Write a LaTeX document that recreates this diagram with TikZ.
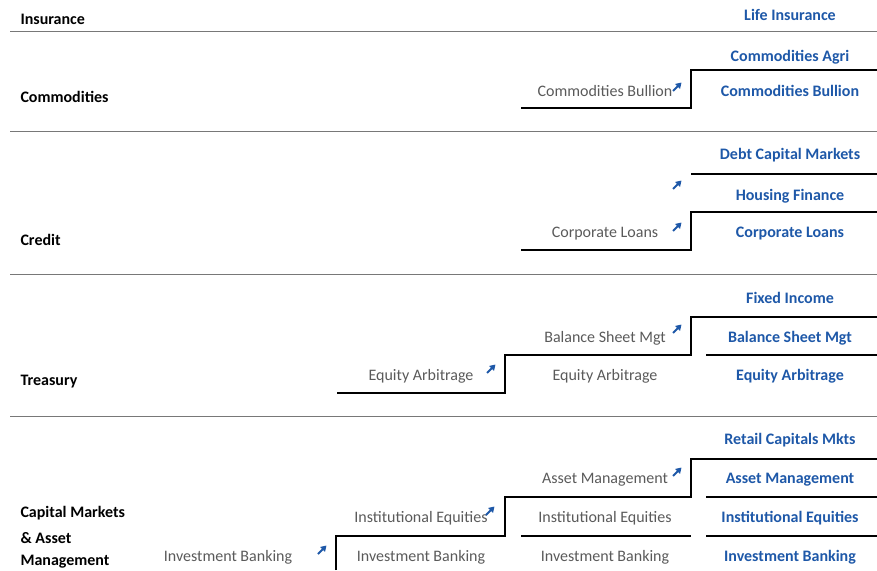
\documentclass[tikz,border=0pt]{standalone}
\usepackage{fontspec}
\setmainfont{Carlito}
\usetikzlibrary{arrows.meta}

\definecolor{unitblue}{RGB}{30,88,168}
\definecolor{oldgrey}{RGB}{90,90,90}
\definecolor{rulegrey}{RGB}{120,120,120}

\begin{document}
\begin{tikzpicture}[x=1pt,y=-1pt,
    every node/.style={font=\fontsize{16}{18}\selectfont},
    sector/.style={anchor=west,font=\fontsize{16}{18}\selectfont\bfseries},
    newunit/.style={text=unitblue,font=\fontsize{16}{18}\selectfont\bfseries},
    oldunit/.style={text=oldgrey},
    stair/.style={line width=2.4pt,line join=miter},
    sep/.style={rulegrey,line width=0.9pt},
    upmark/.style={unitblue,line width=1.8pt,-{Triangle[length=5.5pt,width=6.5pt]}}]

  \useasboundingbox (0,0) rectangle (877,570);

  % sector rules
  \foreach \y in {31,131,274,416}
    \draw[sep] (10,\y) -- (877,\y);

  % sector names
  \node[sector] (ins)  at (17,19)  {Insurance};
  \node[sector] (com)  at (17,97)  {Commodities};
  \node[sector] (cre)  at (17,240) {Credit};
  \node[sector] (tre)  at (17,382) {Treasury};
  \node[sector] (cap1) at (17,513) {Capital Markets};
  \node[sector] (cap2) at (17,538) {\& Asset};
  \node[sector] (cap3) at (17,562) {Management};

  % stairs
  \draw[stair] (521,108) -- (691,108) -- (691,70) -- (877,70);
  \draw[stair] (521,250) -- (691,250) -- (691,212) -- (877,212);
  \draw[stair] (691,174) -- (877,174);
  \draw[stair] (337,393) -- (505,393) -- (505,355) -- (691,355) -- (691,317) -- (877,317);
  \draw[stair] (706,355) -- (877,355);
  \draw[stair] (336,570) -- (336,536) -- (505,536) -- (505,497) -- (691,497) -- (691,459) -- (877,459);
  \draw[stair] (521,536) -- (691,536);
  \draw[stair] (706,536) -- (877,536);
  \draw[stair] (706,497) -- (877,497);

  % existing units
  \begin{scope}[every node/.append style={oldunit}]
    \node (o1) at (605,91)  {Commodities Bullion};
    \node (o2) at (605,234) {Corporate Loans};
    \node (o3) at (421,376) {Equity Arbitrage};
    \node (o4) at (605,338) {Balance Sheet Mgt};
    \node (o5) at (605,376) {Equity Arbitrage};
    \node (o6) at (228,557) {Investment Banking};
    \node (o7) at (421,518) {Institutional Equities};
    \node (o8) at (421,557) {Investment Banking};
    \node (o9) at (605,480) {Asset Management};
    \node (o10) at (605,518) {Institutional Equities};
    \node (o11) at (605,557) {Investment Banking};
  \end{scope}

  % new units
  \begin{scope}[every node/.append style={newunit}]
    \node (n1)  at (790,15)  {Life Insurance};
    \node (n2)  at (790,57)  {Commodities Agri};
    \node (n3)  at (790,91)  {Commodities Bullion};
    \node (n4)  at (790,155) {Debt Capital Markets};
    \node (n5)  at (790,196) {Housing Finance};
    \node (n6)  at (790,234) {Corporate Loans};
    \node (n7)  at (790,298) {Fixed Income};
    \node (n8)  at (790,338) {Balance Sheet Mgt};
    \node (n9)  at (790,376) {Equity Arbitrage};
    \node (n10) at (790,440) {Retail Capitals Mkts};
    \node (n11) at (790,480) {Asset Management};
    \node (n12) at (790,518) {Institutional Equities};
    \node (n13) at (790,557) {Investment Banking};
  \end{scope}

  % growth marks
  \foreach \x/\y in {677/87,677/185,677/227,491/369,677/329,322/550,490/511,677/472}
    \draw[upmark] (\x-4,\y+4) -- (\x+4.5,\y-4.5);

\end{tikzpicture}
\end{document}
